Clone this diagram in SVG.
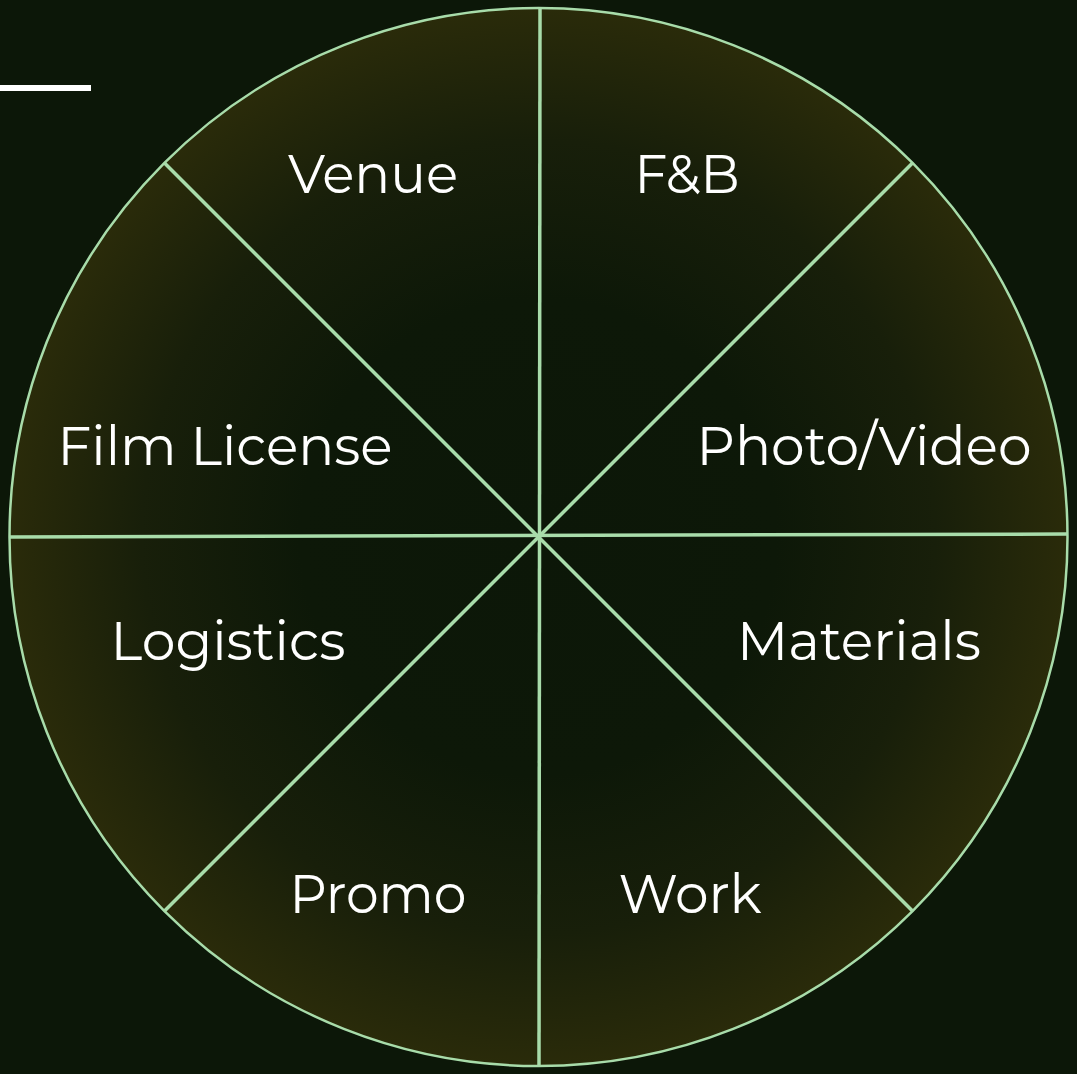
<svg xmlns="http://www.w3.org/2000/svg" width="1077" height="1074" viewBox="0 0 1077 1074">
  <defs>
    <radialGradient id="wheelFill" cx="538.5" cy="537" r="529" gradientUnits="userSpaceOnUse">
      <stop offset="0" stop-color="#0c1708"/>
      <stop offset="0.45" stop-color="#0d1808"/>
      <stop offset="0.75" stop-color="#181f0a"/>
      <stop offset="1" stop-color="#2a2b0a"/>
    </radialGradient>
  </defs>
  <style>
    .lbl { font-family: "Montserrat", "Noto Sans", "Liberation Sans", sans-serif; font-size: 55px; fill: #ffffff; text-anchor: middle; }
    .spoke { stroke: #a8dcaa; stroke-width: 3.5; fill: none; }
    .rim { stroke: #a8dcaa; stroke-width: 2.5; fill: url(#wheelFill); }
  </style>
  <rect x="0" y="0" width="1077" height="1074" fill="#0c1708"/>
  <rect id="accent-bar" x="0" y="85" width="91" height="6" fill="#ffffff"/>
  <g id="wheel">
    <circle class="rim" cx="538.5" cy="537" r="529"/>
  </g>
  <g id="connectors">
    <line class="spoke" x1="540" y1="8" x2="539" y2="1066"/>
    <line class="spoke" x1="10" y1="537" x2="1067" y2="534"/>
    <line class="spoke" x1="164.5" y1="163" x2="912.5" y2="911"/>
    <line class="spoke" x1="912.5" y1="163" x2="164.5" y2="911"/>
  </g>
  <g id="venue"><text class="lbl" x="373" y="193" textLength="170" lengthAdjust="spacingAndGlyphs">Venue</text></g>
  <g id="fb"><text class="lbl" x="687" y="193" textLength="105" lengthAdjust="spacingAndGlyphs">F&amp;B</text></g>
  <g id="film-license"><text class="lbl" x="225" y="465" textLength="335" lengthAdjust="spacingAndGlyphs">Film License</text></g>
  <g id="photo-video"><text class="lbl" x="864" y="465" textLength="335" lengthAdjust="spacingAndGlyphs">Photo/Video</text></g>
  <g id="logistics"><text class="lbl" x="228" y="660" textLength="235" lengthAdjust="spacingAndGlyphs">Logistics</text></g>
  <g id="materials"><text class="lbl" x="859" y="660" textLength="244" lengthAdjust="spacingAndGlyphs">Materials</text></g>
  <g id="promo"><text class="lbl" x="378" y="913" textLength="177" lengthAdjust="spacingAndGlyphs">Promo</text></g>
  <g id="work"><text class="lbl" x="690" y="913" textLength="143" lengthAdjust="spacingAndGlyphs">Work</text></g>
</svg>
